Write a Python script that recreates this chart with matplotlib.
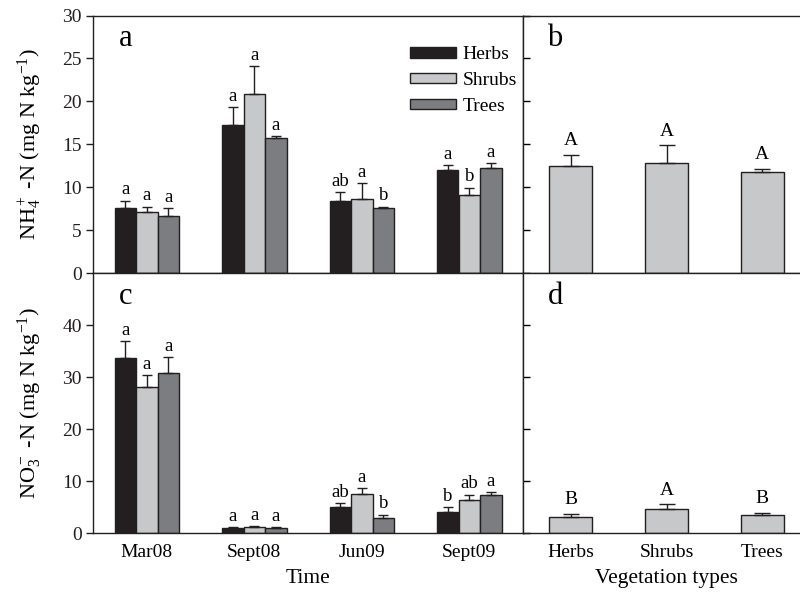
import matplotlib
matplotlib.use("Agg")
import matplotlib.pyplot as plt
import numpy as np
from matplotlib.patches import Patch

plt.rcParams['font.family'] = ['Liberation Serif', 'DejaVu Serif']
plt.rcParams['mathtext.fontset'] = 'custom'
plt.rcParams['mathtext.rm'] = 'Liberation Serif'
plt.rcParams['mathtext.it'] = 'Liberation Serif:italic'
plt.rcParams['mathtext.default'] = 'regular'

# ---- data ----
times = ['Mar08', 'Sept08', 'Jun09', 'Sept09']
veg_types = ['Herbs', 'Shrubs', 'Trees']

nh4_herbs = [7.55, 17.3, 8.36, 11.96]
nh4_herbs_se = [0.89, 2.06, 1.04, 0.58]
nh4_shrubs = [7.08, 20.8, 8.67, 9.14]
nh4_shrubs_se = [0.66, 3.3, 1.83, 0.81]
nh4_trees = [6.66, 15.68, 7.63, 12.27]
nh4_trees_se = [0.93, 0.27, 0.11, 0.53]
nh4_herbs_let = ['a', 'a', 'ab', 'a']
nh4_shrubs_let = ['a', 'a', 'a', 'b']
nh4_trees_let = ['a', 'a', 'b', 'a']

no3_herbs = [33.6, 0.9, 5.08, 4.05]
no3_herbs_se = [3.25, 0.26, 0.71, 0.9]
no3_shrubs = [28.1, 1.16, 7.46, 6.3]
no3_shrubs_se = [2.3, 0.19, 1.22, 1.1]
no3_trees = [30.7, 1.03, 2.83, 7.27]
no3_trees_se = [3.1, 0.13, 0.71, 0.58]
no3_herbs_let = ['a', 'a', 'ab', 'b']
no3_shrubs_let = ['a', 'a', 'a', 'ab']
no3_trees_let = ['a', 'a', 'b', 'a']

nh4_veg = [12.48, 12.84, 11.82]
nh4_veg_se = [1.28, 2.03, 0.31]
nh4_veg_let = ['A', 'A', 'A']
no3_veg = [3.12, 4.71, 3.41]
no3_veg_se = [0.51, 0.8, 0.43]
no3_veg_let = ['B', 'A', 'B']

c_herbs = '#231f20'
c_shrubs = '#c7c8ca'
c_trees = '#7c7d80'
edge = '#231f20'

W, H = 800, 594
fig = plt.figure(figsize=(W / 100, H / 100), dpi=100)

def fx(px):
    return px / W

def fy(py):
    return 1 - py / H

L0, L1 = 93, 523
R0, R1 = 523, 810
T0, MID, B0 = 15.5, 273, 533

ax_a = fig.add_axes([fx(L0), fy(MID), fx(L1 - L0), (MID - T0) / H])
ax_c = fig.add_axes([fx(L0), fy(B0), fx(L1 - L0), (B0 - MID) / H])
ax_b = fig.add_axes([fx(R0), fy(MID), fx(R1 - R0), (MID - T0) / H])
ax_d = fig.add_axes([fx(R0), fy(B0), fx(R1 - R0), (B0 - MID) / H])

bw = 0.2
ekw = dict(ecolor='#231f20', elinewidth=1.0, capthick=1.0)
let_fs = 13.5

def grouped(ax, series, ses, lets, colors):
    x = np.arange(len(times))
    for i, (vals, se, lt, col) in enumerate(zip(series, ses, lets, colors)):
        xs = x + (i - 1) * bw
        ax.bar(xs, vals, width=bw, color=col, edgecolor=edge, linewidth=1.0,
               yerr=[np.zeros(len(vals)), se], capsize=3.8, error_kw=ekw, zorder=2)
        for xi, v, s, t in zip(xs, vals, se, lt):
            ax.annotate(t, (xi, v + s), xytext=(0, 4.5), textcoords='offset points',
                        ha='center', va='baseline', fontsize=let_fs)

grouped(ax_a, [nh4_herbs, nh4_shrubs, nh4_trees],
        [nh4_herbs_se, nh4_shrubs_se, nh4_trees_se],
        [nh4_herbs_let, nh4_shrubs_let, nh4_trees_let],
        [c_herbs, c_shrubs, c_trees])
grouped(ax_c, [no3_herbs, no3_shrubs, no3_trees],
        [no3_herbs_se, no3_shrubs_se, no3_trees_se],
        [no3_herbs_let, no3_shrubs_let, no3_trees_let],
        [c_herbs, c_shrubs, c_trees])

def single(ax, vals, se, lt):
    x = np.arange(len(veg_types))
    ax.bar(x, vals, width=0.45, color=c_shrubs, edgecolor=edge, linewidth=1.0,
           yerr=[np.zeros(len(vals)), se], capsize=5.5, error_kw=ekw, zorder=2)
    for xi, v, s, t in zip(x, vals, se, lt):
        ax.annotate(t, (xi, v + s), xytext=(0, 7), textcoords='offset points',
                    ha='center', va='baseline', fontsize=14)

single(ax_b, nh4_veg, nh4_veg_se, nh4_veg_let)
single(ax_d, no3_veg, no3_veg_se, no3_veg_let)

for ax in (ax_a, ax_c):
    ax.set_xlim(-0.5, 3.5)
for ax in (ax_b, ax_d):
    ax.set_xlim(-0.5, 2.5)
for ax in (ax_a, ax_b):
    ax.set_ylim(0, 30)
    ax.set_yticks([0, 5, 10, 15, 20, 25, 30])
for ax in (ax_c, ax_d):
    ax.set_ylim(0, 50)
    ax.set_yticks([0, 10, 20, 30, 40])

for ax in (ax_a, ax_b, ax_c, ax_d):
    for sp in ax.spines.values():
        sp.set_linewidth(1.0)
        sp.set_color('#231f20')
    ax.tick_params(axis='x', length=0)

for ax in (ax_a, ax_c):
    ax.tick_params(axis='y', direction='out', length=5, width=1.0, labelsize=14,
                   pad=3, colors='#231f20')
for ax in (ax_b, ax_d):
    ax.tick_params(axis='y', direction='in', length=5, width=1.0, labelleft=False)

ax_a.set_xticks([])
ax_b.set_xticks([])
ax_c.set_xticks(np.arange(len(times)))
ax_c.set_xticklabels(times, fontsize=14)
ax_d.set_xticks(np.arange(len(veg_types)))
ax_d.set_xticklabels(veg_types, fontsize=14)
ax_c.tick_params(axis='x', pad=8)
ax_d.tick_params(axis='x', pad=8)

ax_a.set_ylabel('NH$_4^+$ -N (mg N kg$^{-1}$)', fontsize=16)
ax_c.set_ylabel('NO$_3^-$ -N (mg N kg$^{-1}$)', fontsize=16)
ax_a.yaxis.set_label_coords(-0.115, 0.5)
ax_c.yaxis.set_label_coords(-0.115, 0.5)
ax_c.set_xlabel('Time', fontsize=15.5, labelpad=6)
ax_d.set_xlabel('Vegetation types', fontsize=15.5, labelpad=6)

for ax, lab in ((ax_a, 'a'), (ax_b, 'b'), (ax_c, 'c'), (ax_d, 'd')):
    ax.text(0.06 if ax in (ax_a, ax_c) else 0.085, 0.91, lab, transform=ax.transAxes,
            fontsize=22, ha='left', va='center')

handles = [Patch(facecolor=c, edgecolor=edge, linewidth=1.0) for c in (c_herbs, c_shrubs, c_trees)]
ax_a.legend(handles, veg_types, loc='upper left', bbox_to_anchor=((410 - L0) / (L1 - L0), 0.88),
            frameon=False, fontsize=14, handlelength=2.35, handleheight=0.45,
            handletextpad=0.35, labelspacing=0.45, borderpad=0, borderaxespad=0)

fig.savefig('out.png', dpi=100)
